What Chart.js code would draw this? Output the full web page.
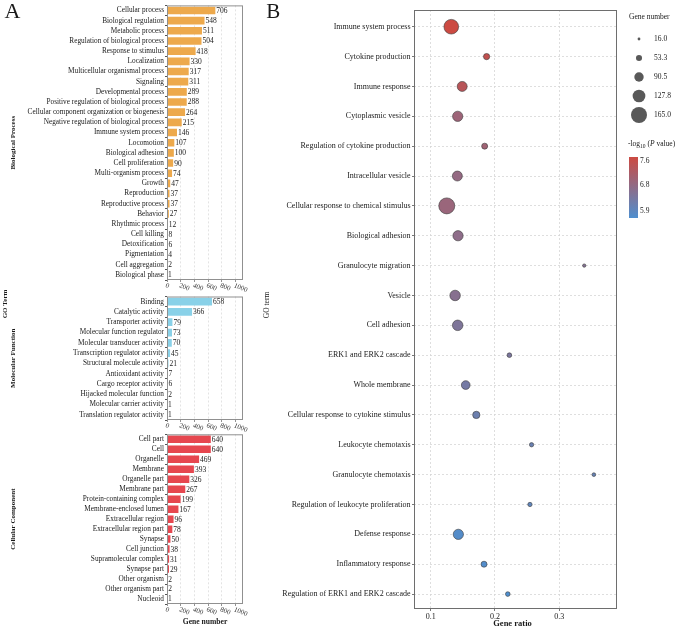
<!DOCTYPE html>
<html>
<head>
<meta charset="utf-8">
<script src="https://cdn.jsdelivr.net/npm/chart.js@4.4.1/dist/chart.umd.min.js"></script>
<style>
  html, body { margin: 0; padding: 0; background: #fff; }
  #fig { position: relative; width: 685px; height: 627px; overflow: hidden; }
  canvas { position: absolute; }
</style>
</head>
<body>
<div id="fig">
  <canvas id="bpChart" width="252" height="296" style="left:0;top:0"></canvas>
  <canvas id="mfChart" width="252" height="146" style="left:0;top:290px"></canvas>
  <canvas id="ccChart" width="252" height="199" style="left:0;top:428px"></canvas>
  <canvas id="dotChart" width="435" height="627" style="left:250px;top:0"></canvas>
</div>
<script>
// ====== Panel A: GO 分類 ======
const bpTerms = [
  'Cellular process', 'Biological regulation', 'Metabolic process',
  'Regulation of biological process', 'Response to stimulus', 'Localization',
  'Multicellular organismal process', 'Signaling', 'Developmental process',
  'Positive regulation of biological process',
  'Cellular component organization or biogenesis',
  'Negative regulation of biological process', 'Immune system process',
  'Locomotion', 'Biological adhesion', 'Cell proliferation',
  'Multi-organism process', 'Growth', 'Reproduction', 'Reproductive process',
  'Behavior', 'Rhythmic process', 'Cell killing', 'Detoxification',
  'Pigmentation', 'Cell aggregation', 'Biological phase'
];
const bpCounts = [706, 548, 511, 504, 418, 330, 317, 311, 289, 288, 264, 215, 146,
  107, 100, 90, 74, 47, 37, 37, 27, 12, 8, 6, 4, 2, 1];

const mfTerms = [
  'Binding', 'Catalytic activity', 'Transporter activity',
  'Molecular function regulator', 'Molecular transducer activity',
  'Transcription regulator activity', 'Structural molecule activity',
  'Antioxidant activity', 'Cargo receptor activity',
  'Hijacked molecular function', 'Molecular carrier activity',
  'Translation regulator activity'
];
const mfCounts = [658, 366, 79, 73, 70, 45, 21, 7, 6, 2, 1, 1];

const ccTerms = [
  'Cell part', 'Cell', 'Organelle', 'Membrane', 'Organelle part',
  'Membrane part', 'Protein-containing complex', 'Membrane-enclosed lumen',
  'Extracellular region', 'Extracellular region part', 'Synapse',
  'Cell junction', 'Supramolecular complex', 'Synapse part',
  'Other organism', 'Other organism part', 'Nucleoid'
];
const ccCounts = [640, 640, 469, 393, 326, 267, 199, 167, 96, 78, 50, 38, 31, 29, 2, 2, 1];

const geneTicks = [0, 200, 400, 600, 800, 1000];

// ====== Panel B: 富集泡泡圖 ======
const dotTerms = [
  'Immune system process', 'Cytokine production', 'Immune response',
  'Cytoplasmic vesicle', 'Regulation of cytokine production',
  'Intracellular vesicle', 'Cellular response to chemical stimulus',
  'Biological adhesion', 'Granulocyte migration', 'Vesicle', 'Cell adhesion',
  'ERK1 and ERK2 cascade', 'Whole membrane',
  'Cellular response to cytokine stimulus', 'Leukocyte chemotaxis',
  'Granulocyte chemotaxis', 'Regulation of leukocyte proliferation',
  'Defense response', 'Inflammatory response',
  'Regulation of ERK1 and ERK2 cascade'
];
const dotRatio = [0.132, 0.187, 0.149, 0.142, 0.184, 0.1415, 0.125, 0.1425, 0.339,
  0.138, 0.142, 0.2225, 0.1545, 0.171, 0.257, 0.354, 0.2545, 0.143, 0.183, 0.22];
const dotGenes = [150, 55, 97, 100, 52, 97, 165, 100, 22, 103, 103, 37, 83, 67,
  33, 26, 33, 100, 52, 37];
const dotLogP = [7.74, 7.55, 7.4, 6.95, 7.0, 6.8, 6.9, 6.7, 6.55, 6.6, 6.45, 6.4,
  6.3, 6.15, 6.1, 6.05, 5.95, 5.75, 5.72, 5.66];
const ratioTicks = [0.1, 0.2, 0.3];
const sizeLegend = [16.0, 53.3, 90.5, 127.8, 165.0];
const colorLegend = [7.6, 6.8, 5.9];

// ====== 樣式 ======
const SERIF = '"Liberation Serif", "Times New Roman", serif';
const BP_COLOR = '#EDA94C';
const MF_COLOR = '#89D1E8';
const CC_COLOR = '#E6474F';
const P_MIN = 5.66, P_MAX = 7.74;
const LOW_RGB = [79, 143, 207];
const HIGH_RGB = [204, 74, 66];

function radiusOf(n) {
  return 1.4 + (n - 16) * (8 - 1.4) / (165 - 16);
}

function colorOf(v) {
  const t = Math.max(0, Math.min(1, (v - P_MIN) / (P_MAX - P_MIN)));
  const c = LOW_RGB.map((l, i) => Math.round(l + (HIGH_RGB[i] - l) * t));
  return `rgb(${c.join(',')})`;
}

function drawText(ctx, e) {
  ctx.save();
  ctx.font = e.font;
  ctx.fillStyle = e.color || '#1a1a1a';
  ctx.textAlign = e.align || 'left';
  ctx.textBaseline = e.baseline || 'middle';
  ctx.translate(e.x, e.y);
  if (e.rotate) ctx.rotate(e.rotate);
  ctx.fillText(e.text, 0, 0);
  ctx.restore();
}

// ====== 外框 ======
const framePlugin = {
  id: 'frame',
  afterDraw(chart, args, opts) {
    const { ctx, chartArea: a } = chart;
    ctx.save();
    ctx.strokeStyle = opts.color || '#888';
    ctx.lineWidth = 1;
    ctx.strokeRect(a.left + 0.5, a.top + 0.5, a.right - a.left - 1, a.bottom - a.top - 1);
    ctx.restore();
  }
};

// ====== 長條圖：數值、斜的刻度字、分面標籤 ======
const barDecoPlugin = {
  id: 'barDeco',
  afterDraw(chart, args, opts) {
    const { ctx, chartArea: a } = chart;
    const meta = chart.getDatasetMeta(0);
    const values = chart.data.datasets[0].data;

    ctx.save();
    ctx.fillStyle = '#1a1a1a';
    ctx.font = `7.5px ${SERIF}`;
    ctx.textAlign = 'left';
    ctx.textBaseline = 'middle';
    meta.data.forEach((bar, i) => {
      ctx.fillText(String(values[i]), bar.x + 1, bar.y + 0.5);
    });

    const xs = chart.scales.x;
    ctx.font = `7px ${SERIF}`;
    ctx.fillStyle = '#333';
    ctx.textBaseline = 'top';
    xs.ticks.forEach(t => {
      const px = xs.getPixelForValue(t.value);
      ctx.save();
      ctx.translate(px, a.bottom + 2);
      ctx.rotate(22 * Math.PI / 180);
      ctx.fillText(String(t.value), 0, 0);
      ctx.restore();
    });
    ctx.restore();

    drawText(ctx, {
      text: opts.facet, x: 13, y: (a.top + a.bottom) / 2,
      font: `bold 7px ${SERIF}`, align: 'center', rotate: -Math.PI / 2
    });
    (opts.extras || []).forEach(e => drawText(ctx, e));
  }
};

function makeBarChart(id, terms, counts, color, padTop, axisH, facet, extras) {
  return new Chart(document.getElementById(id), {
    type: 'bar',
    data: {
      labels: terms,
      datasets: [{
        data: counts,
        backgroundColor: color,
        borderWidth: 0,
        barPercentage: 0.75,
        categoryPercentage: 1
      }]
    },
    options: {
      indexAxis: 'y',
      responsive: false,
      animation: false,
      devicePixelRatio: 1,
      layout: { padding: { top: padTop, right: 9, left: 0, bottom: 0 } },
      scales: {
        x: {
          min: 0,
          max: 1110,
          afterBuildTicks: s => { s.ticks = geneTicks.map(v => ({ value: v })); },
          afterFit: s => { s.height = axisH; },
          ticks: { display: false },
          grid: { color: '#dcdcdc', lineWidth: 0.8, tickLength: 2, tickColor: '#777' },
          border: { display: false, dash: [2, 2] }
        },
        y: {
          afterFit: s => { s.width = 167; },
          ticks: { autoSkip: false, font: { family: SERIF, size: 7.3 }, color: '#1a1a1a', padding: 1 },
          grid: { drawOnChartArea: false, tickLength: 2, tickColor: '#555' },
          border: { display: false }
        }
      },
      plugins: {
        legend: { display: false },
        tooltip: { enabled: false },
        frame: { color: '#909090' },
        barDeco: { facet, extras }
      }
    },
    plugins: [framePlugin, barDecoPlugin]
  });
}

const MF_TOP = 290;

makeBarChart('bpChart', bpTerms, bpCounts, BP_COLOR, 4, 16, 'Biological Process', [
  { text: 'A', x: 4.5, y: 18.3, font: `22px ${SERIF}`, baseline: 'alphabetic' }
]);
makeBarChart('mfChart', mfTerms, mfCounts, MF_COLOR, 6.5, 16, 'Molecular Function', [
  { text: 'GO Term', x: 5, y: 304 - MF_TOP, font: `bold 7px ${SERIF}`, align: 'center', rotate: -Math.PI / 2 }
]);
makeBarChart('ccChart', ccTerms, ccCounts, CC_COLOR, 6.3, 23, 'Cellular Component', [
  { text: 'Gene number', x: 205, y: 194, font: `bold 7.6px ${SERIF}`, align: 'center' }
]);

// ====== 泡泡圖：標題、圖例 ======
const dotDecoPlugin = {
  id: 'dotDeco',
  afterDraw(chart) {
    const { ctx } = chart;
    drawText(ctx, { text: 'B', x: 16.3, y: 18.3, font: `21px ${SERIF}`, baseline: 'alphabetic' });
    drawText(ctx, { text: 'GO term', x: 17, y: 305, font: `7.5px ${SERIF}`, align: 'center', rotate: -Math.PI / 2 });
    drawText(ctx, { text: 'Gene ratio', x: 262.5, y: 624, font: `bold 8.5px ${SERIF}`, align: 'center' });

    // 基因數圖例
    drawText(ctx, { text: 'Gene number', x: 379, y: 17, font: `7.5px ${SERIF}` });
    sizeLegend.forEach((n, i) => {
      const cy = 39 + i * 19;
      ctx.save();
      ctx.fillStyle = '#595959';
      ctx.beginPath();
      ctx.arc(389, cy, radiusOf(n), 0, Math.PI * 2);
      ctx.fill();
      ctx.restore();
      drawText(ctx, { text: n.toFixed(1), x: 404, y: cy, font: `7.5px ${SERIF}` });
    });

    // -log10(P value) 色條
    ctx.save();
    ctx.fillStyle = '#1a1a1a';
    ctx.textBaseline = 'middle';
    ctx.font = `7.5px ${SERIF}`;
    let tx = 378;
    ctx.fillText('-log', tx, 144); tx += ctx.measureText('-log').width;
    ctx.font = `5.5px ${SERIF}`;
    ctx.fillText('10', tx, 147); tx += ctx.measureText('10').width;
    ctx.font = `7.5px ${SERIF}`;
    ctx.fillText(' (', tx, 144); tx += ctx.measureText(' (').width;
    ctx.font = `italic 7.5px ${SERIF}`;
    ctx.fillText('P', tx, 144); tx += ctx.measureText('P').width;
    ctx.font = `7.5px ${SERIF}`;
    ctx.fillText(' value)', tx, 144);

    const barTop = 157, barBottom = 218;
    const g = ctx.createLinearGradient(0, barTop, 0, barBottom);
    g.addColorStop(0, colorOf(P_MAX));
    g.addColorStop(1, colorOf(P_MIN));
    ctx.fillStyle = g;
    ctx.fillRect(379, barTop, 9, barBottom - barTop);
    ctx.restore();
    colorLegend.forEach(v => {
      const cy = barBottom - (v - P_MIN) / (P_MAX - P_MIN) * (barBottom - barTop);
      drawText(ctx, { text: v.toFixed(1), x: 390, y: cy, font: `7.5px ${SERIF}` });
    });
  }
};

new Chart(document.getElementById('dotChart'), {
  type: 'bubble',
  data: {
    datasets: [{
      data: dotTerms.map((t, i) => ({ x: dotRatio[i], y: i, r: radiusOf(dotGenes[i]) })),
      backgroundColor: dotLogP.map(colorOf),
      borderColor: '#3a3a3a',
      borderWidth: 0.6
    }]
  },
  options: {
    responsive: false,
    animation: false,
    devicePixelRatio: 1,
    layout: { padding: { top: 10, right: 68, left: 0, bottom: 0 } },
    scales: {
      x: {
        type: 'linear',
        min: 0.074,
        max: 0.39,
        afterBuildTicks: s => { s.ticks = ratioTicks.map(v => ({ value: v })); },
        afterFit: s => { s.height = 18; },
        ticks: { font: { family: SERIF, size: 8 }, color: '#1a1a1a', padding: 1, maxRotation: 0, callback: v => v.toFixed(1) },
        grid: { color: '#d6d6d6', lineWidth: 0.8, tickLength: 2, tickColor: '#555' },
        border: { display: false, dash: [2, 2] }
      },
      y: {
        type: 'linear',
        reverse: true,
        min: -0.56,
        max: 19.5,
        afterBuildTicks: s => { s.ticks = dotTerms.map((t, i) => ({ value: i })); },
        afterFit: s => { s.width = 164; },
        ticks: { autoSkip: false, font: { family: SERIF, size: 8 }, color: '#1a1a1a', padding: 1.5, callback: v => dotTerms[v] },
        grid: { color: '#d6d6d6', lineWidth: 0.8, tickLength: 2, tickColor: '#555' },
        border: { display: false, dash: [2, 2] }
      }
    },
    plugins: {
      legend: { display: false },
      tooltip: { enabled: false },
      frame: { color: '#6e6e6e' }
    }
  },
  plugins: [framePlugin, dotDecoPlugin]
});
</script>
</body>
</html>
